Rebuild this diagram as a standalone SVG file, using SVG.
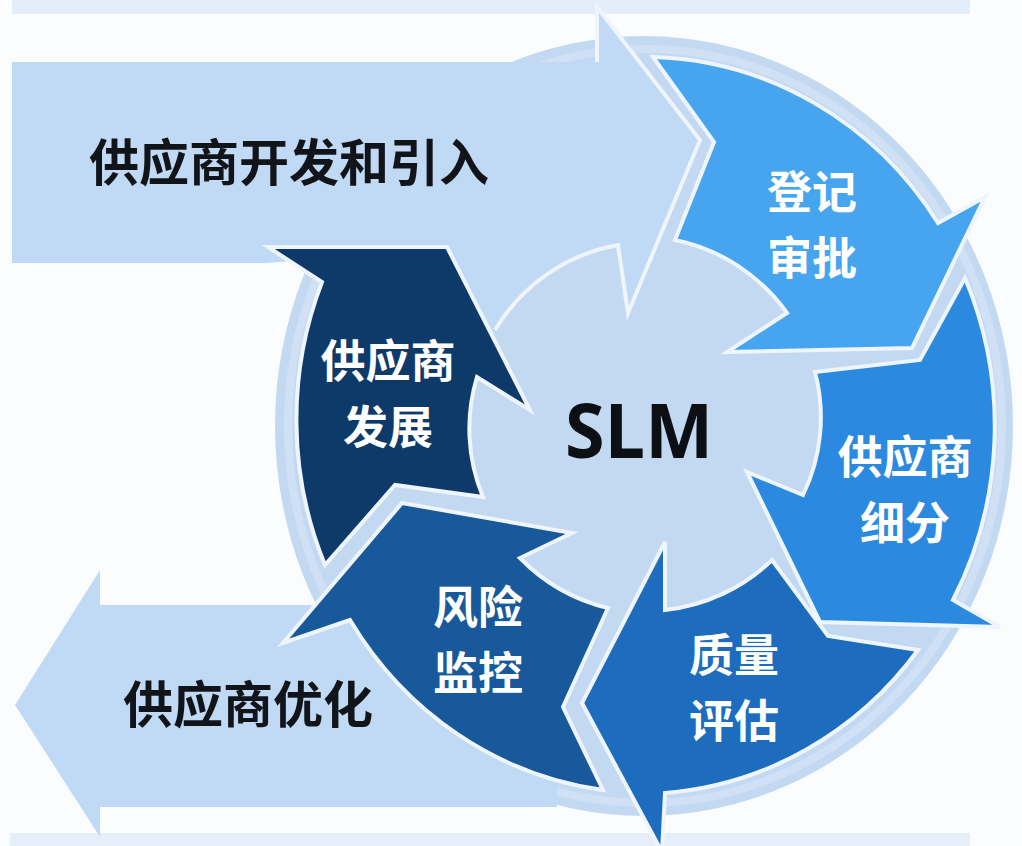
<svg xmlns="http://www.w3.org/2000/svg" width="1022" height="846" viewBox="0 0 1022 846">
<style>
.lbl{font-family:"Noto Sans CJK SC","Noto Sans",sans-serif;font-weight:700;font-size:45px;text-anchor:middle;fill:#ffffff}
.big{font-family:"Noto Sans CJK SC","Noto Sans",sans-serif;font-weight:700;font-size:50px;text-anchor:middle;fill:#111418}
.seg{stroke:#eef5fd;stroke-width:4;stroke-linejoin:miter}
.outline{fill:none;stroke:#eef5fd;stroke-width:4;stroke-linejoin:miter}
.light{fill:#c0d9f4}
</style>
<rect width="1022" height="846" fill="#fbfcfe"/>
<rect x="12" y="0" width="958" height="14" fill="#e3eefa"/>
<rect x="10" y="833" width="960" height="13" fill="#e5eef9"/>

<g id="ring-bg">
  <ellipse cx="644" cy="426" rx="369" ry="390" fill="#c3d9f2"/>
  <ellipse cx="645" cy="426" rx="357" ry="377" fill="none" stroke="#d0e1f5" stroke-width="8"/>
</g>

<g id="arrow-optimize">
  <path class="light" d="M557,605 H100 V570 L15,705 L100,837 V807 H557 Z"/>
  <text class="big" x="248" y="723">供应商优化</text>
</g>

<g id="arrow-develop-intro">
  <path class="light" d="M12,62 H597 V7 L700,140 L628,313 L618,245 A180,180 0 0 0 495,330 L447,247 L267,263 H12 Z"/>
  <path class="outline" d="M597,62 V7 L700,140 L628,313 L618,245 A180,180 0 0 0 495,330"/>
  <text class="big" x="289" y="181">供应商开发和引入</text>
</g>

<g id="connectors"></g>

<g id="seg-register">
  <path class="seg" fill="#46a5ee" d="M653,57 A352,368 0 0 1 938,223 L985,197 L912,348 L727,352 L787,313 A182,182 0 0 0 675,240 L714,142 Z"/>
  <text class="lbl"><tspan x="812" y="209">登记</tspan><tspan x="812" y="275">审批</tspan></text>
</g>

<g id="seg-segment">
  <path class="seg" fill="#2b8ae0" d="M965,278 A352,368 0 0 1 953,600 L1000,627 L820,622 L747,472 L803,495 A178,178 0 0 0 815,372 L920,360 Z"/>
  <text class="lbl"><tspan x="905" y="474">供应商</tspan><tspan x="905" y="540">细分</tspan></text>
</g>

<g id="seg-quality">
  <path class="seg" fill="#1d6cbd" d="M918,650 A352,368 0 0 1 665,793 L662,852 L582,703 L665,542 L665,610 A182,182 0 0 0 772,560 L828,636 Z"/>
  <text class="lbl"><tspan x="734" y="672">质量</tspan><tspan x="734" y="738">评估</tspan></text>
</g>

<g id="seg-risk">
  <path class="seg" fill="#18599b" d="M603,790 A352,368 0 0 1 350,620 L283,643 L402,503 L572,533 L520,558 A182,182 0 0 0 608,608 L563,707 Z"/>
  <text class="lbl"><tspan x="478" y="624">风险</tspan><tspan x="478" y="690">监控</tspan></text>
</g>

<g id="seg-develop">
  <path class="seg" fill="#0e3a6a" d="M325,565 A352,368 0 0 1 322,282 L268,247 L447,247 L530,410 L477,377 A178,178 0 0 0 483,497 L395,485 Z"/>
  <text class="lbl"><tspan x="388" y="378">供应商</tspan><tspan x="388" y="444">发展</tspan></text>
</g>

<g id="hub">
  <text x="639" y="458" font-family="'Open Sans','Liberation Sans',sans-serif" font-weight="700" font-size="76" text-anchor="middle" fill="#0c0f14" textLength="148" lengthAdjust="spacingAndGlyphs">SLM</text>
</g>
</svg>
